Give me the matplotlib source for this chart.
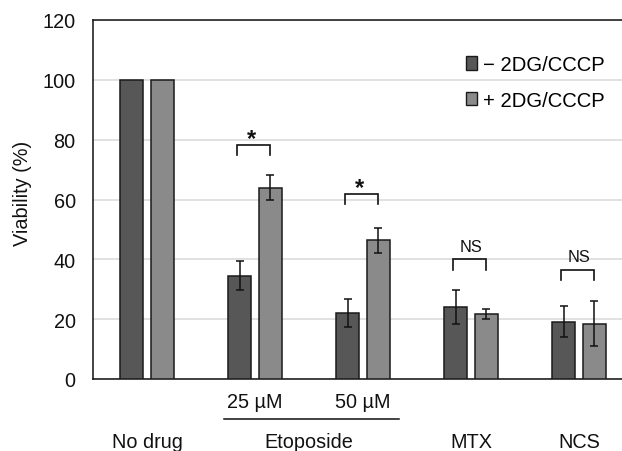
import numpy as np
import matplotlib
matplotlib.use("Agg")
import matplotlib.pyplot as plt
import matplotlib.patches as mpatches
import matplotlib.transforms as mtransforms

plt.rcParams["font.family"] = ["Liberation Sans", "DejaVu Sans"]

# ---------------------------------------------------------------------------
# data
# ---------------------------------------------------------------------------
groups = ["No drug", "25 µM", "50 µM", "MTX", "NCS"]
minus_vals = [100, 34.5, 22.1, 24.1, 19.2]
minus_err = [0, 4.8, 4.6, 5.6, 5.1]
plus_vals = [100, 64.0, 46.3, 21.6, 18.5]
plus_err = [0, 4.2, 4.2, 1.7, 7.6]
series_labels = ["\u2212 2DG/CCCP", "+ 2DG/CCCP"]

# significance brackets: group index, bracket height, label
sig_groups = [1, 2, 3, 4]
sig_heights = [78.3, 61.9, 40.0, 36.5]
sig_labels = ["*", "*", "NS", "NS"]

y_ticks = [0, 20, 40, 60, 80, 100, 120]

C_MINUS = "#575757"
C_PLUS = "#8a8a8a"
C_EDGE = "#1a1a1a"
FS = 14.3

# ---------------------------------------------------------------------------
# figure
# ---------------------------------------------------------------------------
fig = plt.figure(figsize=(6.22, 4.52), dpi=100)
ax = fig.add_axes([93 / 622, 1 - 380 / 452, 540 / 622, 359 / 452])

x = np.arange(len(groups))
width = 0.222
off = 0.1435

ax.bar(x - off, minus_vals, width, color=C_MINUS, edgecolor=C_EDGE, linewidth=1.1,
       label=series_labels[0], zorder=3)
ax.bar(x + off, plus_vals, width, color=C_PLUS, edgecolor=C_EDGE, linewidth=1.1,
       label=series_labels[1], zorder=3)

for xs, vals, errs in [(x - off, minus_vals, minus_err), (x + off, plus_vals, plus_err)]:
    for xi, v, e in zip(xs, vals, errs):
        if e > 0:
            ax.errorbar(xi, v, yerr=e, fmt="none", ecolor="#111111", elinewidth=1.1,
                        capsize=3.2, capthick=1.1, zorder=4)

# brackets
leg = 3.5
for g, h, lab in zip(sig_groups, sig_heights, sig_labels):
    x0, x1 = g - off - 0.02, g + off - 0.005
    ax.plot([x0, x0, x1, x1], [h - leg, h, h, h - leg], color="#111111", lw=1.2,
            solid_joinstyle="miter", zorder=5)
    if lab == "*":
        ax.text(g - 0.03, h - 0.1, lab, ha="center", va="baseline", fontsize=17,
                fontweight="bold", color="#111111")
    else:
        ax.text(g, h + 1.8, lab, ha="center", va="bottom", fontsize=11.8,
                color="#111111")

ax.set_xlim(-0.5, len(groups) - 0.5)
ax.set_ylim(0, 120)
ax.set_yticks(y_ticks)
ax.tick_params(axis="y", length=0, pad=12.5, labelsize=FS, colors="#111111")
ax.set_xticks([])
ax.grid(axis="y", color="#d9d9d9", linewidth=1.1, zorder=0)
ax.set_axisbelow(True)
for side in ["left", "bottom", "top"]:
    ax.spines[side].set_color("#111111")
    ax.spines[side].set_linewidth(1.1)
ax.spines["right"].set_visible(False)

fig.text(23 / 622, 1 - 193.5 / 452, "Viability (%)", rotation=90, ha="center",
         va="center", fontsize=FS, color="#111111")

# category labels below the axis
trans = mtransforms.blended_transform_factory(ax.transData, fig.transFigure)
row1 = 1 - 402 / 452
row2 = 1 - 443 / 452
ax.text(1, row1, groups[1], transform=trans, ha="center", va="center", fontsize=FS,
        color="#111111")
ax.text(2, row1, groups[2], transform=trans, ha="center", va="center", fontsize=FS,
        color="#111111")
ul = 1 - 419.5 / 452
ax.plot([1 - 0.283, 2 + 0.333], [ul, ul], transform=trans, color="#111111", lw=1.1,
        clip_on=False)
bottom_labels = ["No drug", "Etoposide", "MTX", "NCS"]
bottom_pos = [0, 1.5, 3, 4]
for lab, pos in zip(bottom_labels, bottom_pos):
    ax.text(pos, row2, lab, transform=trans, ha="center", va="center", fontsize=FS,
            color="#111111")

# legend
handles = [
    mpatches.Patch(facecolor=C_MINUS, edgecolor=C_EDGE, linewidth=1.0, label=series_labels[0]),
    mpatches.Patch(facecolor=C_PLUS, edgecolor=C_EDGE, linewidth=1.0, label=series_labels[1]),
]
fig.legend(handles=handles, loc="upper left", bbox_to_anchor=(466 / 622, 1 - 56 / 452),
           frameon=False, fontsize=14.6, handlelength=0.52, handleheight=0.68,
           handletextpad=0.3, labelspacing=0.82, borderpad=0, borderaxespad=0)

fig.savefig("out.png", dpi=100)
